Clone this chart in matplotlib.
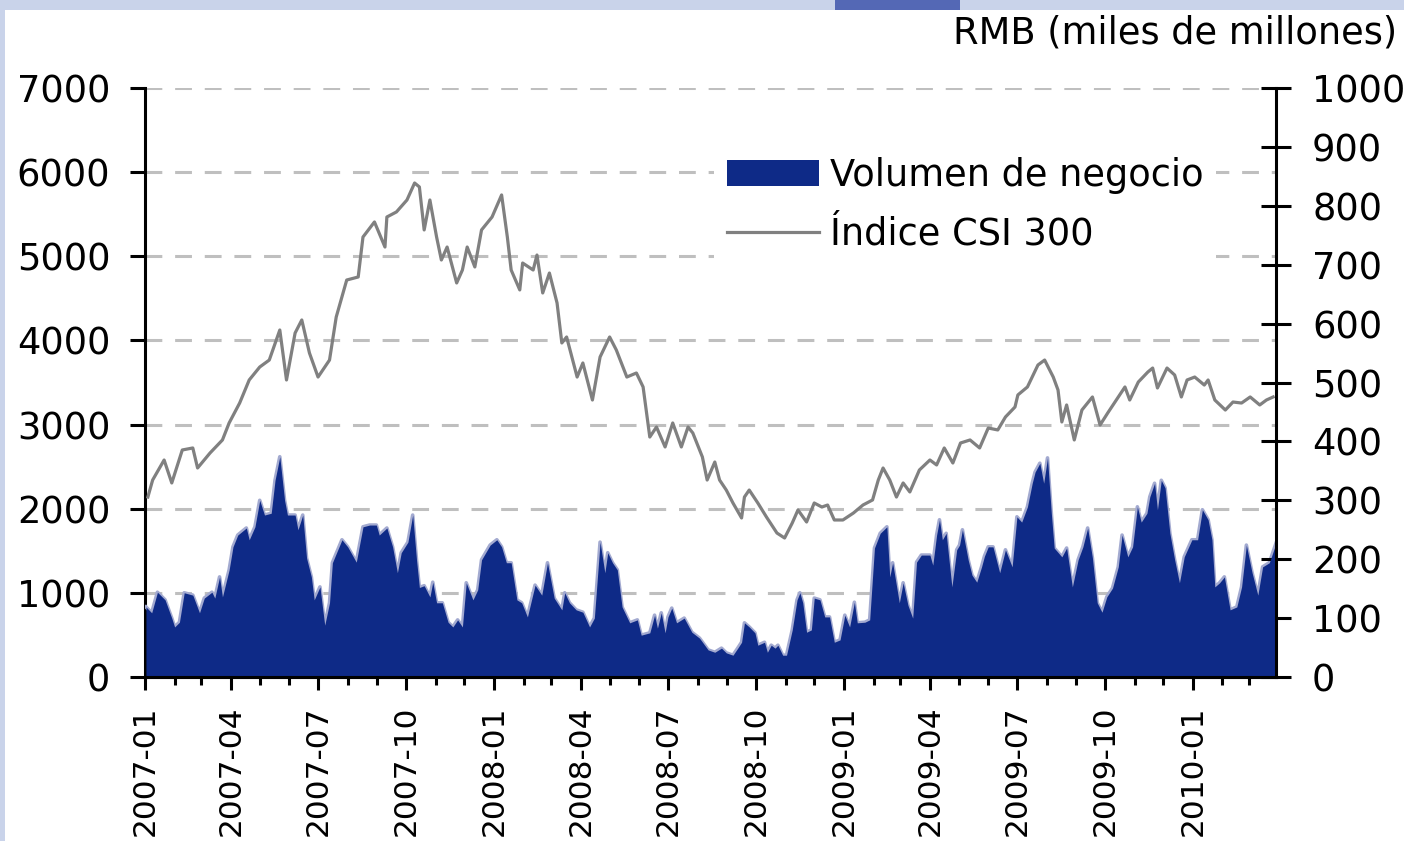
import matplotlib
matplotlib.use("Agg")
import matplotlib.pyplot as plt
import matplotlib.dates as mdates
from matplotlib.patches import Rectangle, Patch
from matplotlib.lines import Line2D
import pandas as pd

# ---------------- data ----------------
index_dates = ["2007-01-04","2007-01-09","2007-01-21","2007-01-29","2007-02-09","2007-02-20","2007-02-25","2007-03-10",
"2007-03-23","2007-03-30","2007-04-10","2007-04-20","2007-05-01","2007-05-11","2007-05-22","2007-05-29","2007-06-07",
"2007-06-14","2007-06-22","2007-07-01","2007-07-13","2007-07-20","2007-07-31","2007-08-12","2007-08-17","2007-08-29",
"2007-09-09","2007-09-11","2007-09-21","2007-10-02","2007-10-10","2007-10-15","2007-10-20","2007-10-26","2007-11-02",
"2007-11-07","2007-11-13","2007-11-23","2007-11-29","2007-12-04","2007-12-12","2007-12-19","2007-12-30","2008-01-09",
"2008-01-15","2008-01-19","2008-01-28","2008-01-31","2008-02-11","2008-02-15","2008-02-21","2008-02-28","2008-03-07",
"2008-03-12","2008-03-17","2008-03-28","2008-04-03","2008-04-13","2008-04-21","2008-05-01","2008-05-08","2008-05-19",
"2008-05-29","2008-06-05","2008-06-12","2008-06-19","2008-06-28","2008-07-06","2008-07-15","2008-07-22","2008-07-27",
"2008-08-06","2008-08-11","2008-08-19","2008-08-24","2008-08-31","2008-09-07","2008-09-16","2008-09-19","2008-09-24",
"2008-10-03","2008-10-12","2008-10-23","2008-10-31","2008-11-08","2008-11-14","2008-11-23","2008-12-01","2008-12-09",
"2008-12-15","2008-12-22","2008-12-31","2009-01-11","2009-01-21","2009-01-31","2009-02-06","2009-02-11","2009-02-18",
"2009-02-25","2009-03-04","2009-03-11","2009-03-21","2009-04-01","2009-04-08","2009-04-16","2009-04-25","2009-05-03",
"2009-05-13","2009-05-23","2009-06-01","2009-06-11","2009-06-19","2009-06-29","2009-07-02","2009-07-12","2009-07-17",
"2009-07-23","2009-07-30","2009-08-08","2009-08-13","2009-08-17","2009-08-22","2009-08-30","2009-09-07","2009-09-18",
"2009-09-26","2009-10-04","2009-10-15","2009-10-22","2009-10-27","2009-11-05","2009-11-15","2009-11-20","2009-11-25",
"2009-12-05","2009-12-13","2009-12-20","2009-12-26","2010-01-03","2010-01-13","2010-01-17","2010-01-24","2010-02-04",
"2010-02-12","2010-02-21","2010-03-02","2010-03-12","2010-03-19","2010-03-26"]
index_values = [2139,2341,2579,2306,2698,2722,2484,2662,2817,3019,3256,3530,3684,3767,4124,3530,4088,4243,3851,3565,
3767,4278,4718,4754,5229,5408,5110,5467,5527,5669,5871,5824,5313,5669,5229,4956,5110,4683,4837,5110,4873,5313,5467,
5729,5229,4837,4600,4920,4837,5015,4564,4801,4445,3970,4041,3565,3732,3292,3803,4041,3886,3565,3613,3447,2852,2971,
2734,3019,2734,2971,2900,2615,2341,2555,2341,2222,2068,1890,2139,2222,2068,1902,1711,1652,1830,1985,1842,2068,2020,
2044,1866,1866,1949,2044,2104,2341,2484,2341,2139,2306,2199,2460,2579,2520,2722,2543,2781,2817,2722,2959,2936,3090,
3209,3352,3447,3565,3708,3767,3565,3411,3031,3233,2817,3173,3328,2995,3138,3328,3447,3292,3506,3625,3672,3435,3672,
3589,3328,3530,3565,3470,3530,3292,3173,3268,3256,3328,3233,3292,3328]

volume_dates = ["2007-01-02","2007-01-08","2007-01-14","2007-01-22","2007-01-29","2007-02-01","2007-02-06","2007-02-11",
"2007-02-20","2007-02-27","2007-03-04","2007-03-12","2007-03-15","2007-03-20","2007-03-23","2007-03-30","2007-04-03",
"2007-04-08","2007-04-17","2007-04-20","2007-04-26","2007-05-01","2007-05-06","2007-05-13","2007-05-17","2007-05-22",
"2007-05-27","2007-05-30","2007-06-07","2007-06-10","2007-06-15","2007-06-19","2007-06-24","2007-06-27","2007-07-03",
"2007-07-08","2007-07-13","2007-07-16","2007-07-26","2007-08-01","2007-08-10","2007-08-17","2007-08-24","2007-08-31",
"2007-09-03","2007-09-11","2007-09-17","2007-09-22","2007-09-26","2007-10-03","2007-10-08","2007-10-12","2007-10-15",
"2007-10-20","2007-10-26","2007-10-29","2007-11-02","2007-11-08","2007-11-14","2007-11-19","2007-11-24","2007-11-29",
"2007-12-03","2007-12-10","2007-12-15","2007-12-19","2007-12-28","2008-01-04","2008-01-09","2008-01-14","2008-01-19",
"2008-01-25","2008-01-30","2008-02-05","2008-02-13","2008-02-20","2008-02-26","2008-03-04","2008-03-12","2008-03-15",
"2008-03-20","2008-03-27","2008-04-03","2008-04-10","2008-04-15","2008-04-21","2008-04-26","2008-04-29","2008-05-04",
"2008-05-09","2008-05-14","2008-05-22","2008-05-30","2008-06-03","2008-06-12","2008-06-17","2008-06-20","2008-06-24",
"2008-06-28","2008-07-01","2008-07-05","2008-07-10","2008-07-18","2008-07-26","2008-08-03","2008-08-12","2008-08-19",
"2008-08-26","2008-08-31","2008-09-07","2008-09-12","2008-09-16","2008-09-19","2008-09-24","2008-09-30","2008-10-03",
"2008-10-10","2008-10-13","2008-10-17","2008-10-21","2008-10-24","2008-10-29","2008-11-02","2008-11-08","2008-11-13",
"2008-11-16","2008-11-19","2008-11-23","2008-11-28","2008-12-01","2008-12-07","2008-12-12","2008-12-17","2008-12-22",
"2008-12-28","2009-01-02","2009-01-07","2009-01-12","2009-01-15","2009-01-23","2009-01-28","2009-02-02","2009-02-08",
"2009-02-15","2009-02-18","2009-02-21","2009-02-28","2009-03-04","2009-03-09","2009-03-14","2009-03-18","2009-03-23",
"2009-04-01","2009-04-04","2009-04-08","2009-04-11","2009-04-14","2009-04-18","2009-04-24","2009-04-29","2009-05-02",
"2009-05-05","2009-05-11","2009-05-15","2009-05-20","2009-05-25","2009-05-28","2009-06-01","2009-06-06","2009-06-13",
"2009-06-19","2009-06-26","2009-07-01","2009-07-06","2009-07-12","2009-07-17","2009-07-20","2009-07-25","2009-07-29",
"2009-08-02","2009-08-06","2009-08-09","2009-08-17","2009-08-22","2009-08-28","2009-09-03","2009-09-08","2009-09-13",
"2009-09-18","2009-09-23","2009-09-28","2009-10-03","2009-10-09","2009-10-15","2009-10-19","2009-10-25","2009-10-30",
"2009-11-04","2009-11-08","2009-11-14","2009-11-17","2009-11-22","2009-11-25","2009-11-29","2009-12-03","2009-12-08",
"2009-12-13","2009-12-18","2009-12-23","2009-12-31","2010-01-06","2010-01-11","2010-01-17","2010-01-21","2010-01-24",
"2010-01-29","2010-02-03","2010-02-09","2010-02-16","2010-02-21","2010-02-26","2010-03-04","2010-03-10","2010-03-15",
"2010-03-22","2010-03-29"]
volume_values = [119,109,144,131,100,85,93,143,139,109,134,144,134,170,136,182,221,241,253,233,255,300,275,278,334,374,
300,275,275,250,275,202,170,131,153,88,126,194,233,221,195,255,258,258,241,253,221,177,211,229,275,199,152,155,136,161,
126,126,93,85,97,85,160,131,148,199,224,233,221,194,194,131,126,102,156,139,194,134,114,143,126,114,110,85,100,229,177,
211,194,182,119,92,97,71,75,105,83,109,75,102,117,92,100,76,66,46,42,49,41,37,49,59,92,85,75,54,59,42,54,49,54,37,37,
80,131,143,126,76,80,134,131,102,102,59,63,105,85,127,92,93,97,219,244,255,170,194,126,160,122,100,195,207,207,190,241,
267,233,244,153,216,224,250,199,173,161,187,205,221,221,177,216,187,272,263,289,329,348,363,329,372,278,219,204,219,153,
199,221,253,202,126,110,136,151,187,241,204,221,289,263,278,306,329,284,334,321,244,199,160,204,233,233,284,267,233,153,
160,170,114,119,153,224,177,139,187,194,227]

left_ticks = [0, 1000, 2000, 3000, 4000, 5000, 6000, 7000]
right_ticks = [0, 100, 200, 300, 400, 500, 600, 700, 800, 900, 1000]
x_start, x_end = "2007-01-01", "2010-03-29"
legend_labels = ["Volumen de negocio", "Índice CSI 300"]
unit_label = "RMB (miles de millones)"

NAVY = "#0E2A87"
FRINGE = "#A3AAD0"
GREY_LINE = "#808080"
GRID = "#BFBFBF"

plt.rcParams["font.family"] = ["DejaVu Sans"]

fig = plt.figure(figsize=(14.04, 8.41), dpi=100)
fig.patch.set_facecolor("white")

# slide decoration (top band, left strip)
fig.patches.append(Rectangle((0, 1 - 10/841), 1, 10/841, transform=fig.transFigure,
                             facecolor="#C9D3EA", edgecolor="none", zorder=0))
fig.patches.append(Rectangle((0, 0), 5/1404, 1, transform=fig.transFigure,
                             facecolor="#C9D3EA", edgecolor="none", zorder=0))
fig.patches.append(Rectangle((835/1404, 1 - 10/841), 125/1404, 10/841, transform=fig.transFigure,
                             facecolor="#5468B5", edgecolor="none", zorder=0))

ax = fig.add_axes([145/1404, (841-677)/841, (1276-145)/1404, (677-88)/841])
ax2 = ax.twinx()

idx_x = pd.to_datetime(index_dates)
vol_x = pd.to_datetime(volume_dates)

# index line on left axis (drawn below the twin axis)
ax.plot(idx_x, index_values, color=GREY_LINE, lw=2.3, zorder=3)
ax.set_ylim(0, 7000)
ax.set_yticks(left_ticks)
ax.yaxis.grid(True, color=GRID, lw=2.2, linestyle=(0, (5.5, 4.2)))
ax.set_axisbelow(True)

# volume area on right axis
ax2.plot(vol_x, volume_values, color=FRINGE, lw=2.6, zorder=1)
ax2.fill_between(vol_x, 0, volume_values, color=NAVY, lw=0, zorder=2)
ax2.set_ylim(0, 1000)
ax2.set_yticks(right_ticks)

ax.set_xlim(pd.Timestamp(x_start), pd.Timestamp(x_end))

# spines
for s in ["top", "right"]:
    ax.spines[s].set_visible(False)
for s in ["top", "left"]:
    ax2.spines[s].set_visible(False)
ax.spines["left"].set_linewidth(2.2)
ax.spines["bottom"].set_linewidth(2.2)
ax2.spines["bottom"].set_linewidth(2.2)
ax2.spines["right"].set_linewidth(2.2)

# x ticks
ax.xaxis.set_major_locator(mdates.MonthLocator(bymonth=[1, 4, 7, 10]))
ax.xaxis.set_minor_locator(mdates.MonthLocator())
ax.xaxis.set_major_formatter(mdates.DateFormatter("%Y-%m"))
ax.tick_params(axis="x", which="major", length=9.5, width=2.2, pad=11, labelsize=22.5,
               labelrotation=90, direction="out")
ax.tick_params(axis="x", which="minor", length=6, width=2.2, direction="out")
ax.tick_params(axis="y", length=11, width=2.2, pad=14, labelsize=26.5, direction="out")
ax2.tick_params(axis="y", length=22, width=2.2, pad=15, labelsize=26.5, direction="inout")

fig.text(1397/1404, 1 - 33/841, unit_label, ha="right", va="center", fontsize=26.5)

handles = [Patch(facecolor=NAVY, edgecolor="none"),
           Line2D([0], [0], color=GREY_LINE, lw=2.3)]
leg = ax2.legend(handles, legend_labels, loc="upper left", bbox_to_anchor=(0.503, 0.905),
                 frameon=True, fontsize=26.5, handlelength=2.5, handletextpad=0.3,
                 labelspacing=0.6, borderaxespad=0, borderpad=0.35)
leg.get_frame().set_facecolor("white")
leg.get_frame().set_edgecolor("none")
leg.get_frame().set_alpha(1)
leg.set_zorder(10)

fig.savefig("out.png", dpi=100, facecolor=fig.get_facecolor())
